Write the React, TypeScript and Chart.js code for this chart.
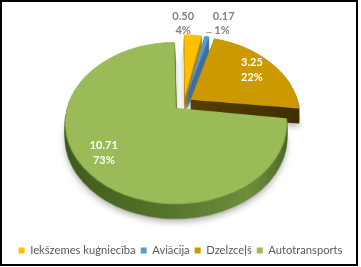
import React, { useEffect, useRef } from "react";
import { Chart, registerables } from "chart.js";

Chart.register(...registerables);

// ---- data ----
const categories = ["Iekšzemes kuģniecība", "Aviācija", "Dzelzceļš", "Autotransports"];
const values = [0.5, 0.17, 3.25, 10.71];
const percentLabels = ["4%", "1%", "22%", "73%"];

// ---- styling ----
const topColors = ["#FFC000", "#5B9BD5", "#CC9900", "#9BBB59"];
const sideColors = ["#b38600", "#41719c", "#4d3900", "#4f6228"];
const explode = [32, 32, 32, 44]; // Chart.js arc offset (displacement = offset / 4)

const R_SRC = 110; // flat pie radius (px) drawn by Chart.js
// perspective of the tilted pie, measured on the green (largest) slice
const PERSP = { cx: 176, yBack: 42, yCenter: 108, yFront: 204, halfWidth: 111 };
const DEPTH = 15;

function makeProjection() {
  const { cx, yBack: yB, yCenter: B, yFront: yF, halfWidth: W } = PERSP;
  const C = (2 * B - yB - yF) / (yF - yB);
  const A = yF * (C + 1) - B;
  const S = (W / R_SRC) * Math.sqrt(1 - C * C);
  return {
    C,
    S,
    cx,
    point(dx: number, dy: number) {
      const v = dy / R_SRC;
      const den = C * v + 1;
      return { x: cx + (S * dx) / den, y: (A * v + B) / den };
    },
    rowToV(y: number) {
      return (y - B) / (A - C * y);
    },
  };
}

// displacement of an exploded arc (px) along its mid angle
function disp(el: any) {
  const off = (el.options.offset || 0) / 4;
  const mid = (el.startAngle + el.endAngle) / 2;
  return { dx: Math.cos(mid) * off, dy: Math.sin(mid) * off, off };
}

const canvasCache: Record<string, HTMLCanvasElement> = {};
function getCanvas(key: string, w: number, h: number) {
  let c = canvasCache[key];
  if (!c) {
    c = document.createElement("canvas");
    canvasCache[key] = c;
  }
  if (c.width !== w) c.width = w;
  if (c.height !== h) c.height = h;
  return c;
}

// Draw arcs flat (top view) with Chart.js's ArcElement, keeping the radius fixed
// when exploded (the slice is only translated, as in a 3D office pie).
function drawFlat(flat: HTMLCanvasElement, arcs: any[], side: boolean) {
  const c = flat.getContext("2d")!;
  const oc = flat.width / 2;
  c.clearRect(0, 0, flat.width, flat.height);
  c.save();
  c.translate(oc - arcs[0].x, oc - arcs[0].y);
  const cx = arcs[0].x;
  arcs.forEach((el, i) => {
    const { off } = disp(el);
    const fix = 1 - Math.sin(Math.min(Math.PI, el.circumference || 0));
    const proxy = Object.create(el);
    proxy.outerRadius = el.outerRadius - off * fix;
    if (side) {
      let fill: any = sideColors[i];
      if (i === 3) {
        const g = c.createLinearGradient(cx - R_SRC, 0, cx + R_SRC, 0);
        g.addColorStop(0, "#3d5a1c");
        g.addColorStop(0.45, "#55742c");
        g.addColorStop(0.78, "#718f3e");
        g.addColorStop(1, "#4a6624");
        fill = g;
      } else if (i === 2) {
        const g = c.createLinearGradient(cx, 0, cx + R_SRC, 0);
        g.addColorStop(0, "#574000");
        g.addColorStop(1, "#3e2e00");
        fill = g;
      }
      proxy.options = { ...el.options, backgroundColor: fill, borderColor: fill, borderWidth: 0 };
    }
    proxy.draw(c);
  });
  c.restore();
}

function warp(dst: HTMLCanvasElement, src: HTMLCanvasElement, P: ReturnType<typeof makeProjection>, ox: number, oy: number) {
  const d = dst.getContext("2d")!;
  d.clearRect(0, 0, dst.width, dst.height);
  const size = src.width;
  for (let yp = 0; yp < dst.height; yp++) {
    const v = P.rowToV(yp + 0.5);
    const sy = oy + v * R_SRC;
    if (sy < 0.5 || sy > size - 0.5) continue;
    const s = P.S / (P.C * v + 1);
    d.drawImage(src, 0, sy - 0.5, size, 1, P.cx - ox * s, yp, size * s, 1);
  }
}

const pie3d = {
  id: "pie3d",
  beforeDatasetsDraw(chart: any) {
    const ctx: CanvasRenderingContext2D = chart.ctx;
    const arcs = chart.getDatasetMeta(0).data as any[];
    const P = makeProjection();
    const W = chart.canvas.width;
    const H = chart.canvas.height;
    const size = 320;
    const flat = getCanvas("flat", size, size);
    const sideW = getCanvas("side", W, H);
    const topW = getCanvas("top", W, H);
    // projection origin: apex of the largest slice
    const g = disp(arcs[3]);
    const ox = size / 2 + g.dx;
    const oy = size / 2 + g.dy;
    drawFlat(flat, arcs, true);
    warp(sideW, flat, P, ox, oy);
    drawFlat(flat, arcs, false);
    warp(topW, flat, P, ox, oy);

    ctx.save();
    ctx.shadowColor = "rgba(0,0,0,0.3)";
    ctx.shadowBlur = 6;
    ctx.shadowOffsetY = 3;
    ctx.drawImage(sideW, 0, DEPTH);
    ctx.restore();
    for (let d = DEPTH - 1; d >= 1; d--) ctx.drawImage(sideW, 0, d);
    ctx.drawImage(topW, 0, 0);
    return false;
  },
  afterDraw(chart: any) {
    const ctx: CanvasRenderingContext2D = chart.ctx;
    const arcs = chart.getDatasetMeta(0).data as any[];
    const P = makeProjection();
    const g = disp(arcs[3]);
    arcs.forEach((el, i) => {
      const R = R_SRC;
      const mid = (el.startAngle + el.endAngle) / 2;
      const dd = disp(el);
      const inside = i >= 2;
      const r = inside ? 0.78 * R : R + 12;
      const a = P.point(dd.dx + Math.cos(mid) * r - g.dx, dd.dy + Math.sin(mid) * r - g.dy);
      ctx.save();
      ctx.font = "bold 11px Lato";
      ctx.textBaseline = "middle";
      const val = values[i].toFixed(2);
      if (inside) {
        ctx.fillStyle = "#ffffff";
        ctx.textAlign = "center";
        ctx.fillText(val, a.x - 2, a.y - 7.5);
        ctx.fillText(percentLabels[i], a.x - 2, a.y + 7.5);
      } else if (i === 0) {
        ctx.fillStyle = "#808080";
        ctx.textAlign = "center";
        const x = a.x - 10.7;
        const y = a.y - 6;
        ctx.fillText(val, x, y - 7);
        ctx.fillText(percentLabels[i], x, y + 7);
      } else {
        ctx.fillStyle = "#808080";
        ctx.textAlign = "left";
        const x = a.x + 4;
        const y = a.y - 7.6;
        ctx.fillText(val, x, y - 7);
        ctx.fillText(percentLabels[i], x + 1.5, y + 7);
        ctx.strokeStyle = "#a6a6a6";
        ctx.lineWidth = 1;
        ctx.beginPath();
        ctx.moveTo(x - 7, y + 9.5);
        ctx.lineTo(x - 1, y + 9.5);
        ctx.stroke();
      }
      ctx.restore();
    });
    ctx.save();
    ctx.strokeStyle = "#000";
    ctx.lineWidth = 2;
    ctx.strokeRect(1, 1, 356, 264);
    ctx.restore();
  },
};

export default function App() {
  const ref = useRef<HTMLCanvasElement>(null);
  useEffect(() => {
    document.body.style.margin = "0";
    const chart = new Chart(ref.current!, {
      type: "pie",
      data: {
        labels: categories,
        datasets: [
          {
            data: values,
            backgroundColor: topColors,
            borderWidth: 0,
            offset: explode,
          },
        ],
      },
      options: {
        animation: false,
        responsive: false,
        devicePixelRatio: 1,
        radius: R_SRC,
        layout: { padding: { bottom: 1 } },
        plugins: {
          legend: {
            position: "bottom",
            labels: {
              boxWidth: 6,
              boxHeight: 6,
              padding: 5,
              color: "#595959",
              font: { family: "Lato", size: 11.2 },
            },
          },
          tooltip: { enabled: false },
        },
      } as any,
      plugins: [pie3d as any],
    });
    return () => chart.destroy();
  }, []);
  return (
    <div style={{ width: 361, height: 267, background: "#fff" }}>
      <style>{"body{margin:0}"}</style>
      <canvas ref={ref} width={361} height={267} style={{ display: "block", width: 361, height: 267 }} />
    </div>
  );
}
